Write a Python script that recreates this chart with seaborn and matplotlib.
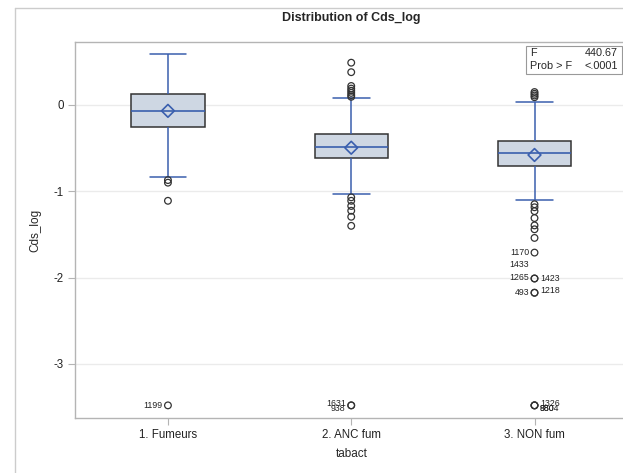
import pandas as pd
import matplotlib.pyplot as plt
import seaborn as sns
from matplotlib.lines import Line2D

# groupes et résumés des boîtes (min moustache, Q1, médiane, Q3, max moustache)
groupes = ["1. Fumeurs", "2. ANC fum", "3. NON fum"]
resume_fumeurs = [-0.831, -0.258, -0.066, 0.127, 0.587]
resume_anc = [-1.035, -0.618, -0.487, -0.340, 0.081]
resume_non = [-1.100, -0.707, -0.553, -0.414, 0.031]
moyennes = [-0.068, -0.495, -0.579]

# valeurs extrêmes
out_fumeurs = [-0.87, -0.90, -1.11, -3.48]
out_anc = [0.49, 0.38, 0.22, 0.19, 0.165, 0.14, 0.115, 0.095,
           -1.07, -1.11, -1.17, -1.225, -1.295, -1.40, -3.48, -3.48]
out_non = [0.15, 0.13, 0.11, 0.09,
           -1.15, -1.185, -1.23, -1.31, -1.395, -1.44, -1.54, -1.71,
           -2.01, -2.01, -2.175, -2.175, -3.48, -3.48, -3.48]

# étiquettes des observations (groupe, valeur, texte)
etiquettes = [
    (0, -3.48, "1199"), (1, -3.48, "1631"), (1, -3.48, "938"),
    (2, -1.71, "1170"), (2, -1.85, "1433"), (2, -2.01, "1265"),
    (2, -2.01, "1423"), (2, -2.175, "493"), (2, -2.175, "1218"),
    (2, -3.48, "1326"), (2, -3.48, "980"), (2, -3.48, "8804"),
]
# décalage en points (dx, dy, alignement)
decalages = [
    (-4, 0, "right"), (-4, 1.5, "right"), (-4, -2.5, "right"),
    (-4, 0, "right"), (-4, 0, "right"), (-4, 1, "right"),
    (4, 0, "left"), (-4, 0, "right"), (4, 1.5, "left"),
    (4, 1.5, "left"), (4, -2.5, "left"), (4, -2.5, "left"),
]

F_val = "440.67"
prob_val = "<.0001"

sns.set_style("white")
plt.rcParams["font.family"] = ["Liberation Sans", "DejaVu Sans"]
plt.rcParams["axes.unicode_minus"] = False

bleu = "#3a5fae"
gris_cadre = "#b4b4b4"

df_box = pd.DataFrame({
    "tabact": [g for g, r in zip(groupes, [resume_fumeurs, resume_anc, resume_non]) for _ in r],
    "Cds_log": resume_fumeurs + resume_anc + resume_non,
})
df_out = pd.DataFrame({
    "tabact": [groupes[0]] * len(out_fumeurs) + [groupes[1]] * len(out_anc) + [groupes[2]] * len(out_non),
    "Cds_log": out_fumeurs + out_anc + out_non,
})
df_moy = pd.DataFrame({"tabact": groupes, "Cds_log": moyennes})

fig = plt.figure(figsize=(6.23, 4.73), dpi=100)
ax = fig.add_axes([0.1204, 0.1156, 0.8876, 0.7962])

sns.boxplot(data=df_box, x="tabact", y="Cds_log", order=groupes, whis=(0, 100),
            width=0.4, color="#cbd6e6", showfliers=False, linewidth=1.1, ax=ax,
            boxprops=dict(edgecolor="#333333"),
            medianprops=dict(color=bleu, linewidth=1.2),
            whiskerprops=dict(color=bleu, linewidth=1.1),
            capprops=dict(color=bleu, linewidth=1.1))

n_coll = len(ax.collections)
sns.stripplot(data=df_out, x="tabact", y="Cds_log", order=groupes, jitter=False,
              marker="o", size=4.8, linewidth=0.9, edgecolor="#333333", color="white",
              ax=ax, zorder=4)
sns.stripplot(data=df_moy, x="tabact", y="Cds_log", order=groupes, jitter=False,
              marker="D", size=6.5, linewidth=1.2, edgecolor=bleu, color="white",
              ax=ax, zorder=5)
for coll in ax.collections[n_coll:]:
    coll.set_facecolor("none")
ax.collections[-1].set_edgecolor(bleu)

for (g, v, txt), (dx, dy, ha) in zip(etiquettes, decalages):
    ax.annotate(txt, (g, v), xytext=(dx, dy), textcoords="offset points",
                ha=ha, va="center", fontsize=6.3, color="#222222")

ax.set_xlim(-0.507, 2.51)
ax.set_ylim(-3.63, 0.733)
ax.set_yticks([0, -1, -2, -3])
ax.yaxis.grid(True, color="#ebebeb", linewidth=1)
ax.set_axisbelow(True)
for s in ax.spines.values():
    s.set_color(gris_cadre)
    s.set_linewidth(1)
ax.tick_params(axis="both", length=5, color=gris_cadre, labelsize=8.3,
               labelcolor="#222222", left=True, bottom=True, pad=3)

ax.set_xlabel("tabact", fontsize=8.5, labelpad=5)
ax.set_ylabel("Cds_log", fontsize=8.5, labelpad=9)
ax.set_title("Distribution of Cds_log", fontsize=9, fontweight="bold", pad=15)

# encadré des statistiques
ax.add_patch(plt.Rectangle((0.8156, 0.9142), 0.173, 0.0744, transform=ax.transAxes,
                           fill=False, edgecolor="#999999", linewidth=0.8, zorder=6))
ax.text(0.823, 0.9708, "F", transform=ax.transAxes, fontsize=7.8, va="center", ha="left")
ax.text(0.982, 0.9708, F_val, transform=ax.transAxes, fontsize=7.8, va="center", ha="right")
ax.text(0.823, 0.9355, "Prob > F", transform=ax.transAxes, fontsize=7.8, va="center", ha="left")
ax.text(0.982, 0.9355, prob_val, transform=ax.transAxes, fontsize=7.8, va="center", ha="right")

# cadre extérieur
fig.add_artist(Line2D([15 / 623, 15 / 623], [0, 1 - 8 / 473], color="#cccccc", lw=1))
fig.add_artist(Line2D([15 / 623, 1], [1 - 8 / 473, 1 - 8 / 473], color="#cccccc", lw=1))

fig.savefig("out.png", dpi=100)
